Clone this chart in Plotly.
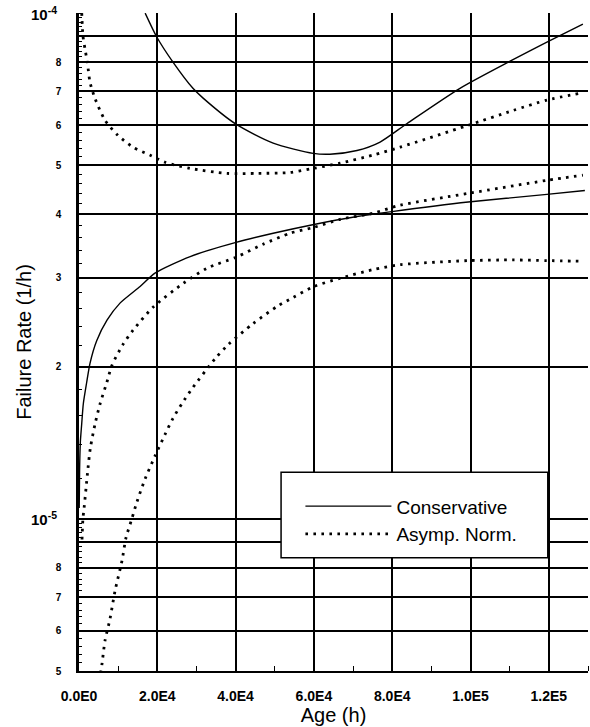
import numpy as np
import plotly.graph_objects as go

# Age (h) and failure rate (1/h) readings for each estimate
cons_upper_x = [16900, 19900, 24000, 29100, 31700, 40100, 49600, 59800, 64100,
                71000, 76900, 83800, 97300, 110600, 119500, 128700]
cons_upper_y = [1.0e-4, 8.96e-5, 8.0e-5, 7.1e-5, 6.79e-5, 6.03e-5, 5.53e-5, 5.28e-5, 5.26e-5,
                5.35e-5, 5.56e-5, 6.05e-5, 7.1e-5, 8.07e-5, 8.76e-5, 9.51e-5]

cons_lower_x = [50, 150, 350, 690, 1110, 1960, 2810, 4520, 7150, 10470, 15600, 19400,
                28400, 40100, 49600, 60000, 71000, 79900, 99400, 119500, 129200]
cons_lower_y = [1.05e-5, 1.25e-5, 1.42e-5, 1.54e-5, 1.69e-5, 1.86e-5, 2.03e-5, 2.25e-5,
                2.47e-5, 2.67e-5, 2.88e-5, 3.06e-5, 3.3e-5, 3.52e-5, 3.67e-5, 3.82e-5,
                3.96e-5, 4.05e-5, 4.23e-5, 4.38e-5, 4.46e-5]

asym_upper_x = [700, 1020, 1530, 2120, 2810, 4090, 6640, 9960, 13800, 18100, 22000, 28400,
                37800, 45500, 53900, 59800, 66700, 75100, 82000, 99400, 110900, 119500, 128000]
asym_upper_y = [1.0e-4, 9.0e-5, 8.5e-5, 8.0e-5, 7.3e-5, 6.78e-5, 6.14e-5, 5.73e-5, 5.43e-5,
                5.24e-5, 5.07e-5, 4.93e-5, 4.82e-5, 4.82e-5, 4.84e-5, 4.93e-5, 5.05e-5,
                5.24e-5, 5.43e-5, 6.0e-5, 6.42e-5, 6.73e-5, 6.94e-5]

asym_mid_x = [770, 1000, 1300, 1800, 2300, 2900, 4100, 5400, 7100, 8400, 11200, 13800, 18900,
              26600, 32700, 40100, 47000, 53900, 60000, 66700, 75100, 82000, 99400, 119500, 128700]
asym_mid_y = [9.1e-6, 1.0e-5, 1.05e-5, 1.15e-5, 1.26e-5, 1.38e-5, 1.54e-5, 1.69e-5, 1.86e-5,
              2.01e-5, 2.21e-5, 2.36e-5, 2.62e-5, 2.92e-5, 3.13e-5, 3.29e-5, 3.49e-5, 3.67e-5,
              3.77e-5, 3.91e-5, 4.02e-5, 4.17e-5, 4.4e-5, 4.67e-5, 4.78e-5]

asym_lower_x = [5500, 5870, 6640, 7920, 9200, 10980, 12000, 13500, 14800, 16900, 19400, 22000,
                24000, 26300, 28900, 34700, 38100, 44400, 50600, 54700, 60000, 66700, 75100,
                82000, 99400, 110900, 119500, 128700]
asym_lower_y = [4.95e-6, 5.16e-6, 5.74e-6, 6.34e-6, 7.2e-6, 8.26e-6, 9.17e-6, 1.0e-5, 1.08e-5,
                1.2e-5, 1.33e-5, 1.47e-5, 1.58e-5, 1.69e-5, 1.81e-5, 2.07e-5, 2.21e-5, 2.43e-5,
                2.63e-5, 2.74e-5, 2.88e-5, 2.99e-5, 3.11e-5, 3.18e-5, 3.24e-5, 3.25e-5,
                3.24e-5, 3.23e-5]

# Axis ticks
x_tick_vals = [0, 20000, 40000, 60000, 80000, 100000, 120000]
x_tick_text = ["0.0E0", "2.0E4", "4.0E4", "6.0E4", "8.0E4", "1.0E5", "1.2E5"]
# labelled digits between decades
y_tick_vals = [5e-6, 6e-6, 7e-6, 8e-6, 2e-5, 3e-5, 4e-5, 5e-5, 6e-5, 7e-5, 8e-5]
y_tick_text = ["5", "6", "7", "8", "2", "3", "4", "5", "6", "7", "8"]
# grid rows drawn without a digit (decades get their own larger labels)
y_plain_grid = [9e-6, 1e-5, 9e-5, 1e-4]
decade_vals = [1e-5, 1e-4]
decade_text = ["10<sup>-5</sup>", "10<sup>-4</sup>"]

FONT = "Liberation Sans, Arial, sans-serif"
solid = dict(color="black", width=1.4, shape="spline", smoothing=0.7)
dotted = dict(color="black", width=2.8, dash="2.6px,5.4px", shape="spline", smoothing=0.7)
y_range = [np.log10(5e-6), np.log10(1.0005e-4)]

fig = go.Figure()
fig.add_trace(go.Scatter(x=cons_upper_x, y=cons_upper_y, mode="lines", line=solid,
                         name="Conservative", legendgroup="c"))
fig.add_trace(go.Scatter(x=cons_lower_x, y=cons_lower_y, mode="lines", line=solid,
                         name="Conservative", legendgroup="c", showlegend=False))
fig.add_trace(go.Scatter(x=asym_upper_x, y=asym_upper_y, mode="lines", line=dotted,
                         name="Asymp. Norm.", legendgroup="a"))
fig.add_trace(go.Scatter(x=asym_mid_x, y=asym_mid_y, mode="lines", line=dotted,
                         name="Asymp. Norm.", legendgroup="a", showlegend=False))
fig.add_trace(go.Scatter(x=asym_lower_x, y=asym_lower_y, mode="lines", line=dotted,
                         name="Asymp. Norm.", legendgroup="a", showlegend=False))
# empty trace so the overlay axis carrying the unlabelled grid rows is drawn
fig.add_trace(go.Scatter(x=[None], y=[None], yaxis="y2", mode="lines",
                         showlegend=False, hoverinfo="skip"))

# white legend frame over the grid
fig.add_shape(type="rect", xref="paper", yref="paper", x0=0.397, x1=0.921, y0=0.172, y1=0.302,
              fillcolor="white", line=dict(color="black", width=1.5), layer="above")

# decade labels, larger than the in-between digits
for v, t in zip(decade_vals, decade_text):
    fig.add_annotation(x=0, xref="paper", y=np.log10(v), yref="y", text=t,
                       showarrow=False, xanchor="right", yanchor="middle", xshift=-20,
                       font=dict(size=15, family=FONT, weight="bold"))

y_minor = np.concatenate([np.arange(5e-6, 1e-5, 2e-7), np.arange(1e-5, 1e-4, 2e-6)])

fig.update_layout(
    width=590, height=727,
    margin=dict(l=79, r=2, t=13, b=56),
    paper_bgcolor="white", plot_bgcolor="white",
    font=dict(family=FONT, color="black"),
    legend=dict(x=0.435, y=0.229, xanchor="left", yanchor="middle",
                bgcolor="rgba(0,0,0,0)", borderwidth=0, itemwidth=86,
                font=dict(size=19, family=FONT), tracegroupgap=0),
    xaxis=dict(
        range=[0, 130000], tickmode="array", tickvals=x_tick_vals, ticktext=x_tick_text,
        tickfont=dict(size=14, family=FONT, weight="bold"),
        showgrid=True, gridcolor="black", gridwidth=1.8, zeroline=False,
        showline=True, linecolor="black", linewidth=2.2, ticks="", ticklabelstandoff=11,
        title=dict(text="Age (h)", font=dict(size=20, family=FONT), standoff=0),
        minor=dict(tickmode="array", tickvals=list(range(10000, 130001, 20000)),
                   ticks="inside", ticklen=5, tickcolor="black", tickwidth=1.2, showgrid=False),
    ),
    yaxis=dict(
        type="log", range=y_range,
        tickmode="array", tickvals=y_tick_vals, ticktext=y_tick_text,
        tickfont=dict(size=10, family=FONT, weight="bold"),
        showgrid=True, gridcolor="black", gridwidth=1.8, zeroline=False,
        showline=True, linecolor="black", linewidth=2.6, ticks="", ticklabelstandoff=13,
        title=dict(text="Failure Rate (1/h)", font=dict(size=20, family=FONT), standoff=19),
        minor=dict(tickmode="array", tickvals=list(y_minor), ticks="inside", ticklen=3,
                   tickcolor="black", tickwidth=1, showgrid=False),
    ),
    yaxis2=dict(
        type="log", range=y_range, overlaying="y", side="left",
        tickmode="array", tickvals=y_plain_grid, showticklabels=False, ticks="",
        showgrid=True, gridcolor="black", gridwidth=1.8, zeroline=False, showline=False,
    ),
)

fig.write_html("out.html")
